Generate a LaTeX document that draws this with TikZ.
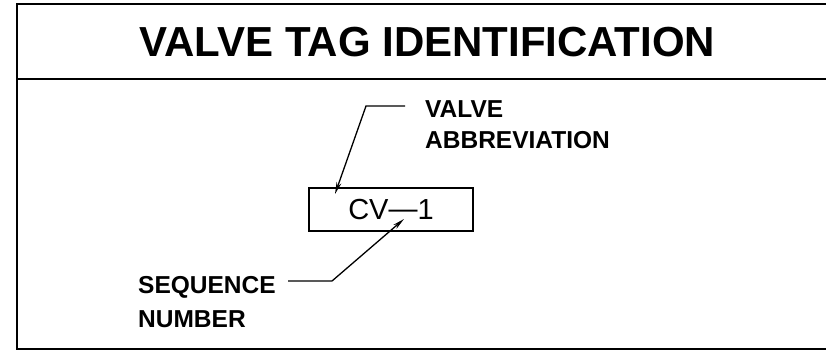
\documentclass[tikz,border=0pt]{standalone}
\usepackage{fontspec}
\setmainfont{Liberation Sans}
\usetikzlibrary{arrows.meta}
\begin{document}
\begin{tikzpicture}[x=1pt,y=-1pt,
  frame/.style={line width=2.6pt},
  title/.style={font=\bfseries\fontsize{42}{42}\selectfont, inner sep=0pt, anchor=base},
  lbl/.style={font=\bfseries\fontsize{24.5}{25}\selectfont, inner sep=0pt, anchor=base west},
  tagbox/.style={draw, line width=2pt, minimum width=164pt, minimum height=43pt, inner sep=0pt,
     font=\fontsize{29}{29}\selectfont},
  leader/.style={line width=1.3pt, -{Stealth[length=12pt,width=5pt]}}]
\useasboundingbox (0,0) rectangle (826,360);
% frame
\draw[frame] (840,4) -- (17,4) -- (17,349) -- (840,349);
\draw[frame] (17,79) -- (840,79);
\node[title] (t) at (427.5,56) {VALVE TAG IDENTIFICATION};
% tag
\node[tagbox] (tag) at (391,209.5) {CV\raisebox{1pt}{—}1};
% labels
\node[lbl] (va1) at (425,117) {VALVE};
\node[lbl] (va2) at (425,148) {ABBREVIATION};
\node[lbl] (sq1) at (138,293) {SEQUENCE};
\node[lbl] (sq2) at (138,327) {NUMBER};
% leaders
\coordinate (vaS) at (405,106);
\coordinate (vaK) at (366,106);
\coordinate (vaT) at (335,194);
\coordinate (sqS) at (288,281);
\coordinate (sqK) at (332,281);
\coordinate (sqT) at (404,219);
\draw[leader] (vaS) -- (vaK) -- (vaT);
\draw[leader] (sqS) -- (sqK) -- (sqT);
\end{tikzpicture}
\end{document}
